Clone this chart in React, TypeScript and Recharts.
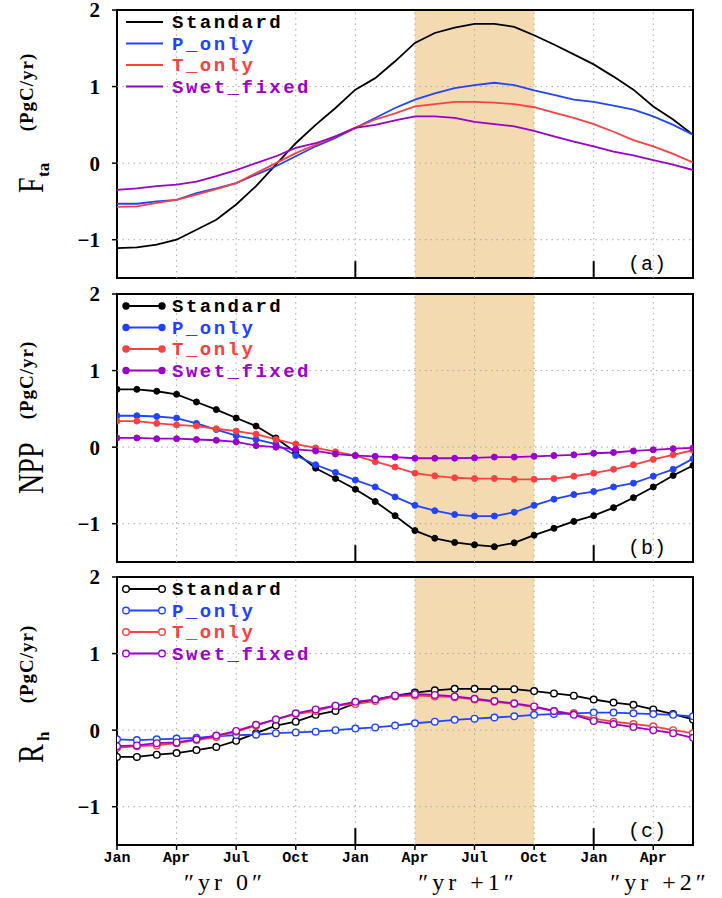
import { LineChart, Line, XAxis, YAxis, ReferenceArea, ReferenceLine } from 'recharts';

// months from Jan "yr 0" to Jun "yr +2"
const MONTH_NAMES = [
  'Jan', 'Feb', 'Mar', 'Apr', 'May', 'Jun', 'Jul', 'Aug', 'Sep', 'Oct', 'Nov', 'Dec',
  'Jan', 'Feb', 'Mar', 'Apr', 'May', 'Jun', 'Jul', 'Aug', 'Sep', 'Oct', 'Nov', 'Dec',
  'Jan', 'Feb', 'Mar', 'Apr', 'May', 'Jun',
];
const X_TICKS = [0, 3, 6, 9, 12, 15, 18, 21, 24, 27];
const X_TICK_LABELS = ['Jan', 'Apr', 'Jul', 'Oct', 'Jan', 'Apr', 'Jul', 'Oct', 'Jan', 'Apr'];
const GRID_X = [3, 6, 9, 12, 15, 18, 21, 24, 27];
const JAN_TICKS = [12, 24];
const Y_TICKS = [-1, 0, 1, 2];
const GRID_Y = [-1, 0, 1];
const SHADE_FROM = 15;
const SHADE_TO = 21;
const SERIES_NAMES = ['Standard', 'P_only', 'T_only', 'Swet_fixed'];
const YEAR_LABELS = ['\u2033yr  0\u2033', '\u2033yr  +1\u2033', '\u2033yr  +2\u2033'];

// (a) F_ta
const FTA_STANDARD = [-1.11, -1.1, -1.065, -1.0, -0.87, -0.74, -0.54, -0.3, -0.02, 0.26, 0.5, 0.72, 0.96, 1.11, 1.33, 1.57, 1.7, 1.77, 1.82, 1.82, 1.78, 1.67, 1.55, 1.42, 1.29, 1.13, 0.96, 0.74, 0.57, 0.37];
const FTA_P = [-0.53, -0.53, -0.5, -0.48, -0.39, -0.33, -0.26, -0.15, -0.04, 0.09, 0.22, 0.33, 0.46, 0.59, 0.72, 0.83, 0.91, 0.98, 1.02, 1.05, 1.02, 0.95, 0.89, 0.83, 0.8, 0.75, 0.7, 0.61, 0.5, 0.37];
const FTA_T = [-0.57, -0.565, -0.52, -0.48, -0.41, -0.34, -0.26, -0.13, 0.0, 0.13, 0.24, 0.35, 0.46, 0.57, 0.65, 0.74, 0.77, 0.8, 0.8, 0.79, 0.77, 0.73, 0.66, 0.59, 0.51, 0.41, 0.3, 0.22, 0.12, 0.01];
const FTA_SWET = [-0.35, -0.33, -0.3, -0.28, -0.24, -0.17, -0.09, 0.0, 0.09, 0.2, 0.26, 0.35, 0.46, 0.5, 0.56, 0.61, 0.61, 0.59, 0.54, 0.51, 0.48, 0.42, 0.35, 0.28, 0.22, 0.15, 0.1, 0.04, -0.02, -0.09];

// (b) NPP
const NPP_STANDARD = [0.755, 0.755, 0.73, 0.69, 0.59, 0.49, 0.38, 0.275, 0.12, -0.07, -0.275, -0.41, -0.55, -0.71, -0.895, -1.09, -1.19, -1.245, -1.275, -1.3, -1.25, -1.15, -1.06, -0.97, -0.895, -0.79, -0.66, -0.52, -0.37, -0.24];
const NPP_P = [0.41, 0.41, 0.4, 0.38, 0.31, 0.23, 0.15, 0.1, 0.04, -0.11, -0.23, -0.33, -0.43, -0.52, -0.65, -0.76, -0.83, -0.88, -0.9, -0.9, -0.85, -0.76, -0.68, -0.62, -0.58, -0.52, -0.47, -0.38, -0.29, -0.15];
const NPP_T = [0.34, 0.34, 0.31, 0.29, 0.275, 0.24, 0.21, 0.17, 0.1, 0.04, -0.01, -0.06, -0.11, -0.19, -0.26, -0.34, -0.375, -0.4, -0.41, -0.41, -0.42, -0.42, -0.41, -0.38, -0.34, -0.29, -0.23, -0.16, -0.1, -0.04];
const NPP_SWET = [0.12, 0.12, 0.11, 0.11, 0.1, 0.09, 0.07, 0.02, 0.0, -0.03, -0.05, -0.09, -0.11, -0.12, -0.13, -0.145, -0.145, -0.145, -0.14, -0.13, -0.13, -0.12, -0.11, -0.1, -0.08, -0.07, -0.05, -0.035, -0.02, -0.01];

// (c) R_h
const RH_STANDARD = [-0.35, -0.35, -0.32, -0.3, -0.26, -0.22, -0.14, -0.04, 0.06, 0.11, 0.2, 0.25, 0.35, 0.4, 0.45, 0.49, 0.52, 0.54, 0.54, 0.535, 0.535, 0.51, 0.48, 0.45, 0.4, 0.36, 0.33, 0.27, 0.21, 0.14];
const RH_P = [-0.12, -0.13, -0.12, -0.11, -0.1, -0.08, -0.065, -0.06, -0.04, -0.03, -0.02, 0.0, 0.02, 0.035, 0.06, 0.09, 0.11, 0.135, 0.15, 0.165, 0.18, 0.2, 0.21, 0.22, 0.23, 0.23, 0.22, 0.21, 0.2, 0.18];
const RH_T = [-0.23, -0.21, -0.2, -0.17, -0.13, -0.09, -0.02, 0.06, 0.14, 0.21, 0.25, 0.32, 0.34, 0.38, 0.44, 0.45, 0.44, 0.43, 0.4, 0.37, 0.34, 0.3, 0.25, 0.21, 0.15, 0.11, 0.08, 0.05, 0.0, -0.04];
const RH_SWET = [-0.21, -0.2, -0.17, -0.16, -0.12, -0.07, -0.01, 0.07, 0.14, 0.22, 0.27, 0.32, 0.37, 0.4, 0.45, 0.47, 0.46, 0.44, 0.41, 0.38, 0.35, 0.31, 0.25, 0.2, 0.12, 0.08, 0.04, 0.0, -0.04, -0.1];

const COLORS = ['#000000', '#2244ff', '#ff4040', '#9a00c8'];
const SHADE_COLOR = '#f4dab0';
const GRID_COLOR = '#a8a8a8';

const W = 722;
const LEFT = 117;
const RIGHT = 693;
const PANEL_H = 268;
const MT = 20;
const XH = 30;

type Marker = 'none' | 'filled' | 'open';

const build = (s: number[], p: number[], t: number[], w: number[]) =>
  MONTH_NAMES.map((name, i) => ({ m: i, name, s: s[i], p: p[i], t: t[i], w: w[i] }));

const PANELS = [
  { top: 10, data: build(FTA_STANDARD, FTA_P, FTA_T, FTA_SWET), marker: 'none' as Marker, tag: '(a)' },
  { top: 294, data: build(NPP_STANDARD, NPP_P, NPP_T, NPP_SWET), marker: 'filled' as Marker, tag: '(b)' },
  { top: 577, data: build(RH_STANDARD, RH_P, RH_T, RH_SWET), marker: 'open' as Marker, tag: '(c)' },
];
const KEYS = ['s', 'p', 't', 'w'];

const MonthTick = (props: any) => {
  const { x, y, payload } = props;
  const label = X_TICK_LABELS[X_TICKS.indexOf(payload.value)];
  return (
    <text x={x} y={y} dy={10} textAnchor="middle" fontFamily="Liberation Mono" fontWeight="bold" fontSize={15} fill="#000">
      {label}
    </text>
  );
};

const Panel = ({ top, data, marker, last }: { top: number; data: any[]; marker: Marker; last: boolean }) => (
  <div style={{ position: 'absolute', left: 0, top: top - MT }}>
    <LineChart width={W} height={PANEL_H + MT + XH} data={data} margin={{ top: MT, right: W - RIGHT, left: 0, bottom: 0 }}>
      <ReferenceArea x1={SHADE_FROM} x2={SHADE_TO} fill={SHADE_COLOR} fillOpacity={1} stroke="none" />
      {GRID_X.map((x) => (
        <ReferenceLine key={'gx' + x} x={x} stroke={GRID_COLOR} strokeDasharray="1.5 4" />
      ))}
      {GRID_Y.map((y) => (
        <ReferenceLine key={'gy' + y} y={y} stroke={GRID_COLOR} strokeDasharray="1.5 4" />
      ))}
      <XAxis
        dataKey="m"
        type="number"
        domain={[0, 29]}
        ticks={X_TICKS}
        interval={0}
        height={XH}
        axisLine={false}
        tickSize={5}
        tickLine={{ stroke: '#000', strokeWidth: 1.5 }}
        tick={last ? <MonthTick /> : false}
        tickFormatter={() => ''}
        allowDataOverflow
      />
      <YAxis
        type="number"
        domain={[-1.5, 2]}
        ticks={Y_TICKS}
        interval={0}
        width={LEFT}
        axisLine={false}
        tickSize={5}
        tickMargin={12}
        tickLine={{ stroke: '#000', strokeWidth: 1.5 }}
        tick={{ fill: '#000', fontFamily: 'Liberation Serif', fontWeight: 'bold', fontSize: 21 }}
        tickFormatter={(v: number) => (v < 0 ? `\u2212${-v}` : `${v}`)}
        allowDataOverflow
      />
      {KEYS.map((k, i) => (
        <Line
          key={k}
          dataKey={k}
          type="linear"
          stroke={COLORS[i]}
          strokeWidth={1.8}
          isAnimationActive={false}
          dot={
            marker === 'none'
              ? false
              : marker === 'filled'
              ? { r: 3, fill: COLORS[i], stroke: COLORS[i], strokeWidth: 1 }
              : { r: 3.3, fill: '#fff', stroke: COLORS[i], strokeWidth: 1.4 }
          }
          activeDot={false}
        />
      ))}
      {JAN_TICKS.map((x) => (
        <ReferenceLine key={'jan' + x} segment={[{ x, y: -1.5 }, { x, y: -1.28 }]} stroke="#000" strokeWidth={2} />
      ))}
      <ReferenceArea x1={0} x2={29} y1={-1.5} y2={2} fill="none" stroke="#000" strokeWidth={2} />
    </LineChart>
  </div>
);

const LEGEND_ROWS = [12, 33.5, 55, 76.5];

const Legend = ({ top, marker }: { top: number; marker: Marker }) => (
  <g>
    {SERIES_NAMES.map((name, i) => {
      const y = top + LEGEND_ROWS[i];
      const c = COLORS[i];
      return (
        <g key={name}>
          <line x1={126} x2={163} y1={y} y2={y} stroke={c} strokeWidth={1.8} />
          {marker !== 'none' &&
            [126, 162].map((cx) => (
              <circle
                key={cx}
                cx={cx}
                cy={y}
                r={marker === 'filled' ? 3 : 3.3}
                fill={marker === 'filled' ? c : '#fff'}
                stroke={c}
                strokeWidth={1.4}
              />
            ))}
          <text x={172} y={y + 6} fill={c} fontFamily="Liberation Mono" fontWeight="bold" fontSize={19} letterSpacing={2.5}>
            {name}
          </text>
        </g>
      );
    })}
  </g>
);

const YTitle = ({ main, sub, mainStart, subStart, unitCenter }: { main: string; sub: string; mainStart: number; subStart: number; unitCenter: number }) => (
  <g fill="#000">
    <text transform={`translate(43,${mainStart}) rotate(-90) scale(0.78,1)`} fontFamily="Liberation Serif" fontSize={36}>
      {main}
    </text>
    {sub && (
      <text transform={`translate(49,${subStart}) rotate(-90)`} fontFamily="Liberation Serif" fontWeight="bold" fontSize={17}>
        {sub}
      </text>
    )}
    <text transform={`translate(33,${unitCenter}) rotate(-90)`} textAnchor="middle" fontFamily="Liberation Serif" fontWeight="bold" fontSize={19} letterSpacing={1}>
      (PgC/yr)
    </text>
  </g>
);

const YEAR_X = [225, 468, 660];

export default function App() {
  return (
    <div style={{ position: 'absolute', left: 0, top: 0, width: W, height: 898, background: '#fff' }}>
      {PANELS.map((p, i) => (
        <Panel key={p.tag} top={p.top} data={p.data} marker={p.marker} last={i === PANELS.length - 1} />
      ))}
      <svg width={W} height={898} style={{ position: 'absolute', left: 0, top: 0, pointerEvents: 'none' }}>
        {PANELS.map((p) => (
          <g key={p.tag}>
            <Legend top={p.top} marker={p.marker} />
            <text x={628} y={p.top + PANEL_H - 8} fontFamily="Liberation Mono" fontSize={20} letterSpacing={1} fill="#000">
              {p.tag}
            </text>
          </g>
        ))}
        <YTitle main="F" sub="ta" mainStart={193} subStart={177} unitCenter={92} />
        <YTitle main="NPP" sub="" mainStart={494} subStart={0} unitCenter={380} />
        <YTitle main="R" sub="h" mainStart={763} subStart={741} unitCenter={664} />
        {YEAR_LABELS.map((t, i) => (
          <text key={t} x={YEAR_X[i]} y={890} textAnchor="middle" fontFamily="Liberation Serif, DejaVu Serif" fontSize={24} letterSpacing={4} fill="#000">
            {t}
          </text>
        ))}
      </svg>
    </div>
  );
}
